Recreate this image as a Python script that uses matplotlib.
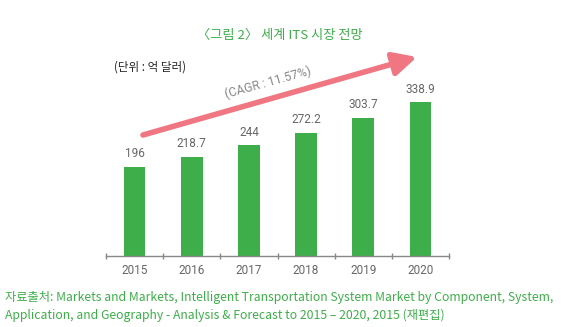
import matplotlib
matplotlib.use("Agg")
import matplotlib.pyplot as plt

years = ["2015", "2016", "2017", "2018", "2019", "2020"]
values = [196, 218.7, 244, 272.2, 303.7, 338.9]
value_labels = ["196", "218.7", "244", "272.2", "303.7", "338.9"]

title = "〈그림 2〉 세계 ITS 시장 전망"
unit = "(단위 : 억 달러)"
cagr = "(CAGR : 11.57%)"
source1 = "자료출처: Markets and Markets, Intelligent Transportation System Market by Component, System,"
source2 = "Application, and Geography - Analysis & Forecast to 2015 – 2020, 2015 (재편집)"

W, H = 561, 327
fig = plt.figure(figsize=(W/100, H/100), dpi=100)
fam = ["Noto Sans CJK KR", "DejaVu Sans"]

ax = fig.add_axes([106/W, (H-256)/H, (449-106)/W, (256-20)/H])
green = "#3dae49"
x = list(range(len(years)))
ax.bar(x, values, width=0.38, color=green, zorder=2)
ax.set_xlim(-0.5, len(years)-0.5)
ax.set_ylim(0, 521)
for s in ["top", "right", "left"]:
    ax.spines[s].set_visible(False)
ax.spines["bottom"].set_color("#888888")
ax.spines["bottom"].set_linewidth(1.0)
ax.set_yticks([])
ax.set_xticks(x)
ax.set_xticklabels(years, fontsize=8.5, color="#666666", family=["Roboto"])
ax.tick_params(axis="x", which="major", length=0, pad=6)
ax.set_xticks([i - 0.5 for i in range(len(years)+1)], minor=True)
ax.tick_params(axis="x", which="minor", length=5, direction="inout", color="#888888", width=1)

for xi, v, lab in zip(x, values, value_labels):
    ax.annotate(lab, (xi, v), xytext=(0, 5), textcoords="offset points",
                ha="center", va="bottom", fontsize=8.5, color="#666666", family=["Roboto"])

fig.text(280/W, 1-35/H, title, ha="center", va="center", fontsize=9.5, color="#3dae49", family=fam)
fig.text(114/W, 1-67/H, unit, ha="left", va="center", fontsize=8.3, color="#222222", family=fam)

ax.annotate("", xy=(417/W, 1-57/H), xytext=(143/W, 1-135/H), xycoords="figure fraction",
            textcoords="figure fraction",
            arrowprops=dict(arrowstyle="-|>,head_length=1.4,head_width=0.7", color="#f07782",
                            lw=4, shrinkA=0, shrinkB=0))
fig.text(268/W, 1-83/H, cagr, ha="center", va="center", rotation=15.5, fontsize=8.8,
         color="#888888", family=["Roboto"])

fig.text(5/W, 1-297/H, source1, ha="left", va="center", fontsize=8.8, color="#3dae49", family=fam)
fig.text(5/W, 1-315/H, source2, ha="left", va="center", fontsize=8.8, color="#3dae49", family=fam)

fig.savefig("out.png", dpi=100, facecolor="white")
